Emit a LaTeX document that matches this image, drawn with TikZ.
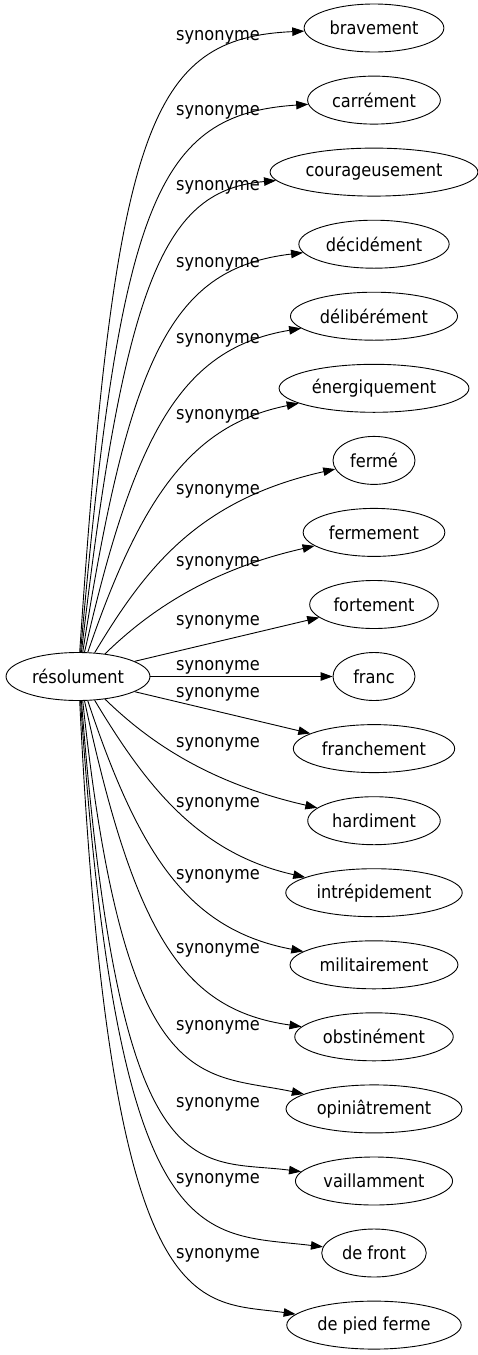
\documentclass[tikz,border=0pt]{standalone}
\usepackage{fontspec}
\setmainfont{DejaVu Sans}[FakeStretch=0.9]
\usetikzlibrary{arrows.meta, shapes.geometric}

\begin{document}
\begin{tikzpicture}[x=1pt, y=-1pt,
  word/.style={draw, ellipse, line width=0.9pt, inner xsep=5pt, inner ysep=0pt,
    minimum height=48pt, minimum width=82pt, font=\fontsize{18}{20}\selectfont},
  syn/.style={anchor=base, inner sep=0pt, font=\fontsize{18}{20}\selectfont},
  rel/.style={line width=0.9pt, -{Triangle[length=12pt, width=8.5pt]}}]
% Page is 478 by 1355, y runs downwards
\useasboundingbox (0,0) rectangle (478,1355);
% Central word
\node[word] (res) at (78,676.5) {résolument};
% Synonyms in one column, one every 72pt
\node[word] (brav) at (374,28) {bravement};
\node[word] (carr) at (374,100.1) {carrément};
\node[word] (cour) at (374,172.1) {courageusement};
\node[word] (deci) at (374,244.2) {décidément};
\node[word] (deli) at (374,316.2) {délibérément};
\node[word] (ener) at (374,388.3) {énergiquement};
\node[word] (ferme) at (374,460.4) {fermé};
\node[word] (fermt) at (374,532.4) {fermement};
\node[word] (fort) at (374,604.5) {fortement};
\node[word] (franc) at (374,676.5) {franc};
\node[word] (franch) at (374,748.6) {franchement};
\node[word] (hard) at (374,820.7) {hardiment};
\node[word] (intr) at (374,892.7) {intrépidement};
\node[word] (mili) at (374,964.8) {militairement};
\node[word] (obst) at (374,1036.8) {obstinément};
\node[word] (opin) at (374,1108.9) {opiniâtrement};
\node[word] (vail) at (374,1181) {vaillamment};
\node[word] (front) at (374,1253) {de front};
\node[word] (pied) at (374,1325.1) {de pied ferme};
% Edges going up
\draw[rel] (res.86) .. controls (115,125) and (150,38) .. (brav);
\draw[rel] (res.84) .. controls (120,200) and (158,114) .. (carr);
\draw[rel] (res.82) .. controls (125,275) and (166,190) .. (cour);
\draw[rel] (res.79) .. controls (130,350) and (174,268) .. (deci);
\draw[rel] (res.75) .. controls (135,430) and (183,348) .. (deli);
\draw[rel] (res.68) .. controls (140,500) and (190,425) .. (ener);
\draw[rel] (res.55) .. controls (145,569) and (197,500) .. (ferme);
\draw[rel] (res.40) .. controls (145,615) and (204,571) .. (fermt);
% Nearly straight edges in the middle
\draw[rel] (res.15) -- (fort);
\draw[rel] (res) -- (franc);
\draw[rel] (res.-15) -- (franch);
% Edges going down
\draw[rel] (res.-40) .. controls (145,738) and (204,782) .. (hard);
\draw[rel] (res.-55) .. controls (145,784) and (197,853) .. (intr);
\draw[rel] (res.-68) .. controls (140,858) and (190,930) .. (mili);
\draw[rel] (res.-75) .. controls (135,935) and (183,1010) .. (obst);
\draw[rel] (res.-79) .. controls (125,1100) and (200,1072) .. (opin);
\draw[rel] (res.-82) .. controls (120,1200) and (195,1158) .. (vail);
\draw[rel] (res.-84) .. controls (118,1260) and (200,1232) .. (front);
\draw[rel] (res.-86) .. controls (110,1330) and (195,1300) .. (pied);
% Edge labels
\node[syn] (lbrav) at (218,40) {synonyme};
\node[syn] (lcarr) at (218,115) {synonyme};
\node[syn] (lcour) at (218,190) {synonyme};
\node[syn] (ldeci) at (218,267) {synonyme};
\node[syn] (ldeli) at (218,343) {synonyme};
\node[syn] (lener) at (218,419) {synonyme};
\node[syn] (lferme) at (218,494) {synonyme};
\node[syn] (lfermt) at (218,566) {synonyme};
\node[syn] (lfort) at (218,625) {synonyme};
\node[syn] (lfranc) at (218,670) {synonyme};
\node[syn] (lfranch) at (218,697) {synonyme};
\node[syn] (lhard) at (218,747) {synonyme};
\node[syn] (lintr) at (218,807) {synonyme};
\node[syn] (lmili) at (218,879) {synonyme};
\node[syn] (lobst) at (218,953) {synonyme};
\node[syn] (lopin) at (218,1030) {synonyme};
\node[syn] (lvail) at (218,1107) {synonyme};
\node[syn] (lfront) at (218,1183) {synonyme};
\node[syn] (lpied) at (218,1258) {synonyme};
\end{tikzpicture}
\end{document}
